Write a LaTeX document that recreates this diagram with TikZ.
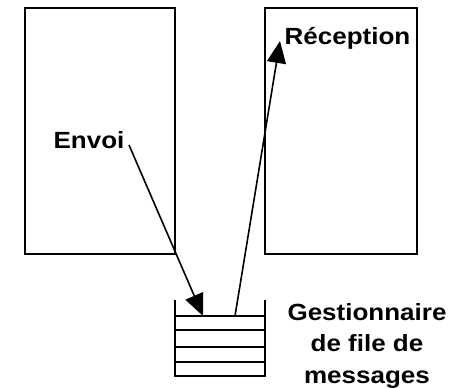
\documentclass[tikz,border=0pt]{standalone}
\usepackage{fontspec}
\setmainfont{Liberation Sans}
\usepackage{graphicx}
\usetikzlibrary{arrows.meta}
\newcommand\squash[1]{\scalebox{1}[0.9]{#1}}
\begin{document}
\begin{tikzpicture}[x=1pt,y=-1pt,
  procbox/.style={draw,line width=1.8pt,inner sep=0,minimum height=246pt},
  lbl/.style={font=\bfseries\fontsize{26}{31.5}\selectfont,inner sep=0},
  slot/.style={line width=2pt},
  flow/.style={line width=1.6pt,-{Triangle[length=22pt,width=19pt]}}]
\useasboundingbox (0,0) rectangle (456,388);
% two processes
\node[procbox,minimum width=150pt] (sender) at (100,131) {};
\node[procbox,minimum width=152pt] (receiver) at (341,131) {};
% labels
\node[lbl,anchor=base] (envoi) at (89,148) {\squash{Envoi}};
\node[lbl,anchor=base] (reception) at (347.5,45) {\squash{Réception}};
\node[lbl,align=center] (manager) at (367,345.5)
  {\squash{Gestionnaire}\\\squash{de file de}\\\squash{messages}};
% message queue
\draw[slot] (175,300) -- (175,376) -- (265,376) -- (265,300);
\draw[line width=1.5pt] (175,316) -- (265,316);
\foreach \y in {330,347,362} \draw[slot] (175,\y) -- (265,\y);
% connector end points
\coordinate (sendTail) at (129,145);
\coordinate (qIn) at (203,316);
\coordinate (qOut) at (235,316);
\coordinate (recvTip) at (280,41);
\draw[flow] (sendTail) -- (qIn);
\draw[flow] (qOut) -- (recvTip);
\end{tikzpicture}
\end{document}
